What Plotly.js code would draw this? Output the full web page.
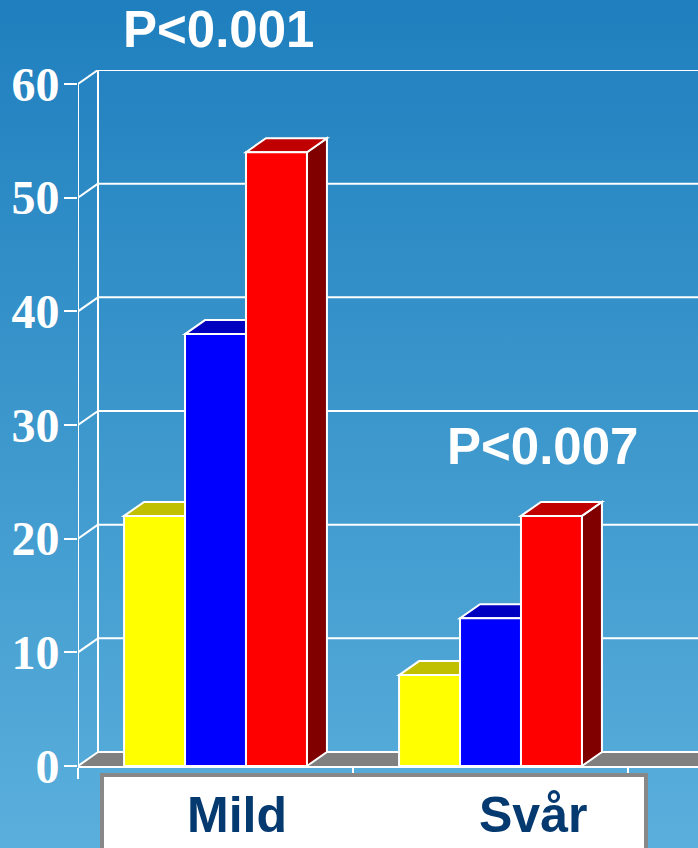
<!DOCTYPE html>
<html>
<head>
<meta charset="utf-8">
<script src="https://cdn.plot.ly/plotly-3.0.1.min.js"></script>
<style>
html,body{margin:0;padding:0;}
body{width:698px;height:848px;overflow:hidden;background:linear-gradient(to bottom,#1f7fbe 0%,#3c97cc 50%,#5aafdc 100%);}
#chart{width:698px;height:848px;}
</style>
</head>
<body>
<div id="chart"></div>
<script>
// ---- data ----
const categories = ["Mild", "Svår"];
const seriesYellow = [22, 8];
const seriesBlue = [38, 13];
const seriesRed = [54, 22];
const yTicks = [0, 10, 20, 30, 40, 50, 60];
const pLabels = ["P<0.001", "P<0.007"];

// ---- geometry (pixel-based layout) ----
const W = 698, H = 848;
const mL = 78, mR = 0, mT = 70, mB = 82;
const plotW = W - mL - mR, plotH = H - mT - mB;
const catPx = 275;               // pixels per category
const depthX = 20, depthY = 14;  // 3D depth in pixels
const yMaxVal = 60;
const pxPerY = (plotH - depthY) / yMaxVal;
const dyU = depthY / pxPerY;
const xMin = -0.5, xMax = -0.5 + plotW / catPx;
const dxU = depthX / catPx;
const yMax = yMaxVal + dyU;

const bargap = 0.335;
const barW = (1 - bargap) / 3;

const series = [
  {name: "A", vals: seriesYellow, front: "#ffff00", top: "#c0c000", side: "#808000"},
  {name: "B", vals: seriesBlue,   front: "#0000ff", top: "#0000c0", side: "#000080"},
  {name: "C", vals: seriesRed,    front: "#ff0000", top: "#c00000", side: "#800000"}
];

const xIdx = categories.map((c, i) => i);
const white = "#ffffff";
const shapes = [];

// back wall gridlines
yTicks.forEach(v => {
  shapes.push({type: "line", xref: "x", yref: "y", layer: "below",
    x0: xMin + dxU, x1: xMax + 1, y0: v + dyU, y1: v + dyU,
    line: {color: white, width: 2}});
});
// floor
shapes.push({type: "path", xref: "x", yref: "y", layer: "below",
  path: `M ${xMin} 0 L ${xMax + 1} 0 L ${xMax + 1} ${dyU} L ${xMin + dxU} ${dyU} Z`,
  fillcolor: "#808080", line: {width: 0}});
shapes.push({type: "line", xref: "x", yref: "y", layer: "below",
  x0: xMin + dxU, x1: xMax + 1, y0: dyU, y1: dyU, line: {color: white, width: 2}});
// diagonals from front axis to back wall
yTicks.forEach(v => {
  shapes.push({type: "line", xref: "x", yref: "y", layer: "below",
    x0: xMin, x1: xMin + dxU, y0: v, y1: v + dyU, line: {color: white, width: 2}});
});
// back wall left edge
shapes.push({type: "line", xref: "x", yref: "y", layer: "below",
  x0: xMin + dxU, x1: xMin + dxU, y0: dyU, y1: yMaxVal + dyU, line: {color: white, width: 2}});

// 3D faces of bars (tops and sides), drawn beneath the front faces
series.forEach((s, si) => {
  s.vals.forEach((v, ci) => {
    const x0 = ci + (si - 1.5) * barW;
    const x1 = x0 + barW;
    shapes.push({type: "path", xref: "x", yref: "y", layer: "below",
      path: `M ${x1} 0 L ${x1 + dxU} ${dyU} L ${x1 + dxU} ${v + dyU} L ${x1} ${v} Z`,
      fillcolor: s.side, line: {color: white, width: 2}});
    shapes.push({type: "path", xref: "x", yref: "y", layer: "below",
      path: `M ${x0} ${v} L ${x0 + dxU} ${v + dyU} L ${x1 + dxU} ${v + dyU} L ${x1} ${v} Z`,
      fillcolor: s.top, line: {color: white, width: 2}});
  });
});

// front y axis line
shapes.push({type: "line", xref: "x", yref: "y", layer: "above",
  x0: xMin, x1: xMin, y0: 0, y1: yMaxVal, line: {color: white, width: 2}});

// category box at the bottom (paper coords from pixels)
const pxX = px => (px - mL) / plotW;
const pxY = py => (H - mB - py) / plotH;
shapes.push({type: "rect", xref: "paper", yref: "paper", layer: "above",
  x0: pxX(102), x1: pxX(646), y0: pxY(775), y1: pxY(870),
  fillcolor: "#ffffff", line: {color: "#888888", width: 4}});

const traces = series.map(s => ({
  type: "bar", x: xIdx, y: s.vals, name: s.name,
  marker: {color: s.front, line: {color: white, width: 2}},
  hoverinfo: "skip"
}));

const catLabelPx = [237, 533];
const pLabelPos = [[218, 30], [542, 446]];
const annotations = [];
categories.forEach((c, i) => {
  annotations.push({xref: "paper", yref: "paper", x: pxX(catLabelPx[i]), y: pxY(815),
    text: "<b>" + c + "</b>", showarrow: false, xanchor: "center", yanchor: "middle",
    font: {family: "Liberation Sans, Arial, sans-serif", size: 50, color: "#053a70"}});
  annotations.push({xref: "paper", yref: "paper", x: pxX(pLabelPos[i][0]), y: pxY(pLabelPos[i][1]),
    text: "<b>" + pLabels[i] + "</b>", showarrow: false, xanchor: "center", yanchor: "middle",
    font: {family: "Liberation Sans, Arial, sans-serif", size: 51, color: "#ffffff"}});
});

const layout = {
  width: W, height: H,
  margin: {l: mL, r: mR, t: mT, b: mB, pad: 0},
  paper_bgcolor: "rgba(0,0,0,0)", plot_bgcolor: "rgba(0,0,0,0)",
  showlegend: false,
  barmode: "group", bargap: bargap, bargroupgap: 0,
  xaxis: {type: "linear", range: [xMin, xMax], showgrid: false, zeroline: false,
    showline: true, linecolor: white, linewidth: 2,
    tickmode: "array", tickvals: [-0.5, 0.5, 1.5], ticks: "outside", ticklen: 11,
    tickwidth: 2, tickcolor: white, showticklabels: false, fixedrange: true},
  yaxis: {range: [0, yMax], showgrid: false, zeroline: false, showline: false,
    tickmode: "array", tickvals: yTicks, ticktext: yTicks.map(String),
    ticks: "outside", ticklen: 13, tickwidth: 2, tickcolor: white,
    ticklabelstandoff: -5,
    tickfont: {family: "Liberation Serif, Times New Roman, serif", size: 48, color: white, weight: 700},
    fixedrange: true},
  shapes: shapes,
  annotations: annotations
};

Plotly.newPlot("chart", traces, layout, {displayModeBar: false, staticPlot: true});
</script>
</body>
</html>
